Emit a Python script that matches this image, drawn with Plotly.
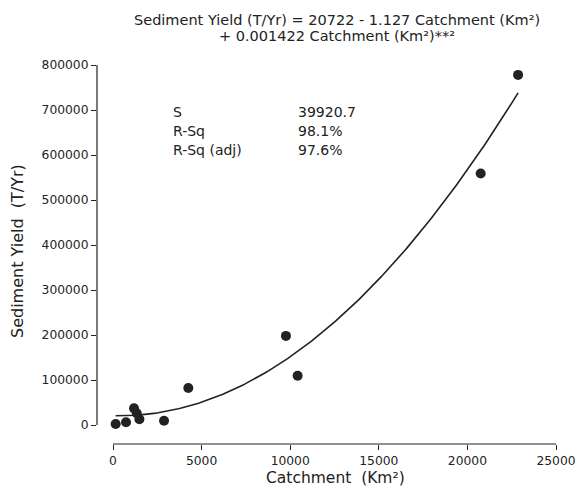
import numpy as np
import plotly.graph_objects as go

# Data
catchment = [150, 735, 1185, 1340, 1490, 2880, 4250, 9760, 10420, 20750, 22860]
sediment = [2200, 6000, 37000, 26000, 12700, 9600, 82200, 198000, 109600, 559000, 778000]

# Fitted quadratic coefficients (from the title equation)
coef = [20722, -1.127, 0.001422]

x_ticks = [0, 5000, 10000, 15000, 20000, 25000]
y_ticks = [0, 100000, 200000, 300000, 400000, 500000, 600000, 700000, 800000]

stats_labels = ["S", "R-Sq", "R-Sq (adj)"]
stats_values = ["39920.7", "98.1%", "97.6%"]

title_lines = ["Sediment Yield (T/Yr) = 20722 - 1.127 Catchment (Km²)",
               "+ 0.001422 Catchment (Km²)**²"]

FONT = "DejaVu Sans"
INK = "#222222"

L, R, T, B = 97, 16, 60, 48
PW, PH = 576 - L - R, 492 - T - B


def px(xp):
    return (xp - L) / PW


def py(yp):
    return (492 - B - yp) / PH


xf = np.linspace(min(catchment), max(catchment), 200)
yf = coef[0] + coef[1] * xf + coef[2] * xf ** 2

fig = go.Figure()
fig.add_trace(go.Scatter(x=xf, y=yf, mode="lines",
                         line=dict(color=INK, width=1.6), hoverinfo="skip"))
fig.add_trace(go.Scatter(x=catchment, y=sediment, mode="markers",
                         marker=dict(color=INK, size=10)))

# axis lines spanning tick range only (detached spines)
fig.add_shape(type="line", xref="paper", yref="y", x0=0, x1=0,
              y0=y_ticks[0], y1=y_ticks[-1], line=dict(color=INK, width=1.2))
fig.add_shape(type="line", xref="x", yref="paper", x0=x_ticks[0], x1=x_ticks[-1],
              y0=0, y1=0, line=dict(color=INK, width=1.2))

rows = [112, 131, 150]
for lab, val, yy in zip(stats_labels, stats_values, rows):
    fig.add_annotation(text=lab, xref="paper", yref="paper", x=px(171), y=py(yy),
                       xanchor="left", yanchor="middle", showarrow=False,
                       font=dict(family=FONT, size=14, color=INK))
    fig.add_annotation(text=val, xref="paper", yref="paper", x=px(296), y=py(yy),
                       xanchor="left", yanchor="middle", showarrow=False,
                       font=dict(family=FONT, size=14, color=INK))

# title lines
for line, yy in zip(title_lines, [20, 36]):
    fig.add_annotation(text=line, xref="paper", yref="paper", x=px(337), y=py(yy),
                       xanchor="center", yanchor="middle", showarrow=False,
                       font=dict(family=FONT, size=14.5, color=INK))

# axis titles
fig.add_annotation(text="Catchment  (Km²)", xref="paper", yref="paper",
                   x=px(335), y=py(478),
                   xanchor="center", yanchor="middle", showarrow=False,
                   font=dict(family=FONT, size=15.5, color=INK))
fig.add_annotation(text="Sediment Yield  (T/Yr)", xref="paper", yref="paper",
                   x=px(17), y=py(251), textangle=-90,
                   xanchor="center", yanchor="middle", showarrow=False,
                   font=dict(family=FONT, size=16, color=INK))

fig.update_layout(
    width=576, height=492,
    margin=dict(l=L, r=R, t=T, b=B, autoexpand=False),
    paper_bgcolor="white", plot_bgcolor="white",
    showlegend=False,
    xaxis=dict(range=[-903, 25226], tickvals=x_ticks, ticktext=[str(v) for v in x_ticks],
               automargin=False,
               showgrid=False, zeroline=False, showline=False,
               ticks="outside", ticklen=5, tickcolor=INK, tickwidth=1.2,
               tickfont=dict(family=FONT, size=12.3, color=INK)),
    yaxis=dict(range=[-42222, 811111], tickvals=y_ticks, ticktext=[str(v) for v in y_ticks],
               automargin=False,
               showgrid=False, zeroline=False, showline=False,
               ticks="outside", ticklen=5, tickcolor=INK, tickwidth=1.2,
               tickfont=dict(family=FONT, size=12.3, color=INK)),
)

fig.write_html("out.html", config={"displayModeBar": False},
               post_script="document.body.style.margin='0px';")
